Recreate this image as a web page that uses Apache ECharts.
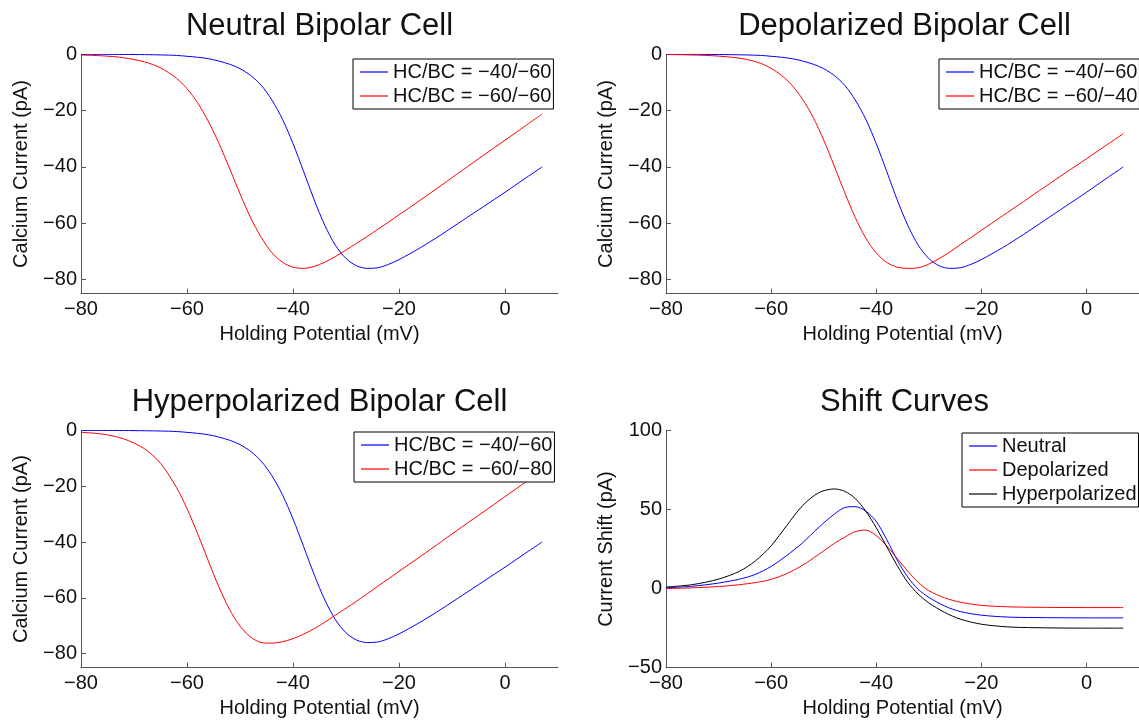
<!DOCTYPE html>
<html><head><meta charset="utf-8">
<script src="https://cdn.jsdelivr.net/npm/echarts@6/dist/echarts.min.js"></script>
<style>html,body{margin:0;padding:0;background:#fff}#c{width:1139px;height:723px}</style>
</head><body><div id="c"></div>
<script>
// ---- data ----
const X_IV = [-80,-76,-72,-68,-65,-62,-60,-58,-56,-54,-52,-50,-48,-46,-44,-42,-40,-38,-36,-34,-32,-30,-28,-26,-24,-22,-20,-16,-12,-8,-4,0,4,7];
const I_BLUE = [0,-0.02,-0.05,-0.12,-0.22,-0.4,-0.7,-1.05,-1.55,-2.4,-3.5,-5.1,-7.5,-11,-16.2,-23,-31.7,-41.6,-51.7,-60.7,-67.8,-72.5,-75.1,-76,-75.8,-74.6,-72.9,-68.7,-64,-59,-54,-49,-43.8,-40];
const I_RED_NEUTRAL = [-0.25,-0.55,-1.2,-2.7,-4.8,-8.5,-12.2,-17.2,-23.7,-31.5,-40.4,-49.5,-58,-65,-70.4,-73.8,-75.6,-76,-75.3,-73.8,-71.8,-69.5,-67.1,-64.7,-62.1,-59.6,-57,-51.8,-46.5,-41.1,-35.8,-30.5,-25.2,-21.2];
const I_RED_DEPOL = [-0.08,-0.2,-0.42,-0.95,-1.7,-3.2,-5,-7.5,-11.1,-16,-22.4,-30.4,-39.6,-49.1,-57.9,-65.2,-70.5,-73.9,-75.6,-76,-75.8,-74.5,-72.5,-70.2,-67.6,-65.1,-62.5,-57.4,-52.3,-47.2,-42.1,-37.1,-32,-28.2];
const I_RED_HYPER = [-0.7,-1.3,-3,-6.6,-11.8,-20.4,-28,-37,-46.6,-56,-64,-70.1,-74,-76,-76.2,-75.7,-74.6,-73,-71,-68.7,-66.2,-63.7,-61.2,-58.5,-55.8,-53.2,-50.5,-45.2,-39.8,-34.4,-29.1,-23.7,-18.4,-14.3];

const X_SHIFT = [-80,-75,-70,-66,-63,-60,-57,-54,-51,-48,-46,-44,-42,-40,-38,-36,-34,-32,-30,-27,-24,-20,-15,-10,0,7];
const S_NEUTRAL = [0.5,1.5,3.5,6,9,14,21,29,38.5,47,51.2,51.8,49,42.5,31,18,7.3,-0.5,-5.5,-11,-14.5,-16.8,-18,-18.3,-18.5,-18.5];
const S_DEPOL = [0,0.5,1.3,2.5,3.8,5.8,9.5,14.8,21.5,28.5,32.5,36,37,33.5,27,19,11,4,-1.3,-5.8,-8.6,-10.6,-11.5,-11.8,-12,-12];
const S_HYPER = [1,2.5,6,11,17.5,27,40,52.5,60.5,63,61.5,57,49,38.5,26.5,14.5,4,-3.5,-9,-15,-19.3,-22.5,-24.2,-24.7,-25,-25];

const X_TICKS = [-80,-60,-40,-20,0];
const Y_TICKS_IV = [-80,-60,-40,-20,0];
const Y_TICKS_SHIFT = [-50,0,50,100];

const TITLES = ['Neutral Bipolar Cell','Depolarized Bipolar Cell','Hyperpolarized Bipolar Cell','Shift Curves'];
const X_NAME = 'Holding Potential (mV)';
const Y_NAMES = ['Calcium Current (pA)','Calcium Current (pA)','Calcium Current (pA)','Current Shift (pA)'];
const LEG_BLUE = 'HC/BC = \u221240/\u221260';
const LEG_RED = ['HC/BC = \u221260/\u221260','HC/BC = \u221260/\u221240','HC/BC = \u221260/\u221280'];
const LEG_SHIFT = ['Neutral','Depolarized','Hyperpolarized'];

// ---- layout ----
const FF = '"Liberation Sans", Arial, Helvetica, sans-serif';
const TXT = '#111';
const AX = '#555';
const GRIDS = [
  {left:81, top:54.3, width:477, height:239.4},
  {left:666, top:54.3, width:477, height:239.4},
  {left:81, top:430.4, width:477, height:237.3},
  {left:666, top:430.4, width:477, height:237.3}
];
const zip = (xs, ys) => xs.map((x, i) => [x, ys[i]]);
const fmt = v => String(v).replace('-', '\u2212');

function xAx(i) {
  return {
    type:'value', gridIndex:i, min:-80, max:10,
    name:X_NAME, nameLocation:'middle', nameGap:31,
    nameTextStyle:{fontSize:20, color:TXT, fontFamily:FF},
    axisLine:{show:true, onZero:false, lineStyle:{color:AX, width:1}},
    axisTick:{show:true, inside:true, length:5, customValues:X_TICKS, lineStyle:{color:AX, width:1}},
    axisLabel:{customValues:X_TICKS, formatter:fmt, fontSize:20, color:TXT, margin:6, fontFamily:FF},
    splitLine:{show:false}
  };
}
function yAx(i, min, max, ticks) {
  return {
    type:'value', gridIndex:i, min:min, max:max,
    name:Y_NAMES[i], nameLocation:'middle', nameGap:50,
    nameTextStyle:{fontSize:20, color:TXT, fontFamily:FF},
    axisLine:{show:true, onZero:false, lineStyle:{color:AX, width:1}},
    axisTick:{show:true, inside:true, length:5, customValues:ticks, lineStyle:{color:AX, width:1}},
    axisLabel:{customValues:ticks, formatter:fmt, fontSize:20, color:TXT, margin:4, fontFamily:FF},
    splitLine:{show:false}
  };
}
function line(name, i, xs, ys, color) {
  return {
    type:'line', name:name, xAxisIndex:i, yAxisIndex:i, data:zip(xs, ys),
    symbol:'none', smooth:0.3, lineStyle:{color:color, width:1}, itemStyle:{color:color},
    emphasis:{disabled:true}, silent:true
  };
}
function legend(left, top, names) {
  return {
    left:left, top:top, orient:'vertical', padding:[3,2,3,7], itemGap:4,
    icon:'rect', itemWidth:28, itemHeight:1.2,
    backgroundColor:'#fff', borderColor:'#000', borderWidth:1,
    textStyle:{fontSize:20, lineHeight:20, color:TXT, fontFamily:FF},
    selectedMode:false, data:names
  };
}
function title(text, cx, top) {
  return {text:text, left:cx, top:top, textAlign:'center', padding:0,
    textStyle:{fontSize:31, fontWeight:'normal', color:TXT, fontFamily:FF}};
}

const chart = echarts.init(document.getElementById('c'), null, {renderer:'canvas'});
chart.setOption({
  animation:false,
  backgroundColor:'#fff',
  title:[
    title(TITLES[0], 81+238.5, 11),
    title(TITLES[1], 666+238.5, 11),
    title(TITLES[2], 81+238.5, 387),
    title(TITLES[3], 666+238.5, 387)
  ],
  grid:GRIDS,
  xAxis:[xAx(0), xAx(1), xAx(2), xAx(3)],
  yAxis:[yAx(0,-85,0,Y_TICKS_IV), yAx(1,-85,0,Y_TICKS_IV), yAx(2,-85,0,Y_TICKS_IV), yAx(3,-50,100,Y_TICKS_SHIFT)],
  legend:[
    legend(353, 59, [LEG_BLUE, LEG_RED[0]]),
    legend(939, 59, [LEG_BLUE, LEG_RED[1]]),
    legend(354, 432, [LEG_BLUE, LEG_RED[2]]),
    legend(962, 433, LEG_SHIFT)
  ],
  series:[
    line(LEG_BLUE, 0, X_IV, I_BLUE, '#0000ff'),
    line(LEG_RED[0], 0, X_IV, I_RED_NEUTRAL, '#ff0000'),
    line(LEG_BLUE, 1, X_IV, I_BLUE, '#0000ff'),
    line(LEG_RED[1], 1, X_IV, I_RED_DEPOL, '#ff0000'),
    line(LEG_BLUE, 2, X_IV, I_BLUE, '#0000ff'),
    line(LEG_RED[2], 2, X_IV, I_RED_HYPER, '#ff0000'),
    line(LEG_SHIFT[0], 3, X_SHIFT, S_NEUTRAL, '#0000ff'),
    line(LEG_SHIFT[1], 3, X_SHIFT, S_DEPOL, '#ff0000'),
    line(LEG_SHIFT[2], 3, X_SHIFT, S_HYPER, '#000000')
  ]
});
</script>
</body></html>
